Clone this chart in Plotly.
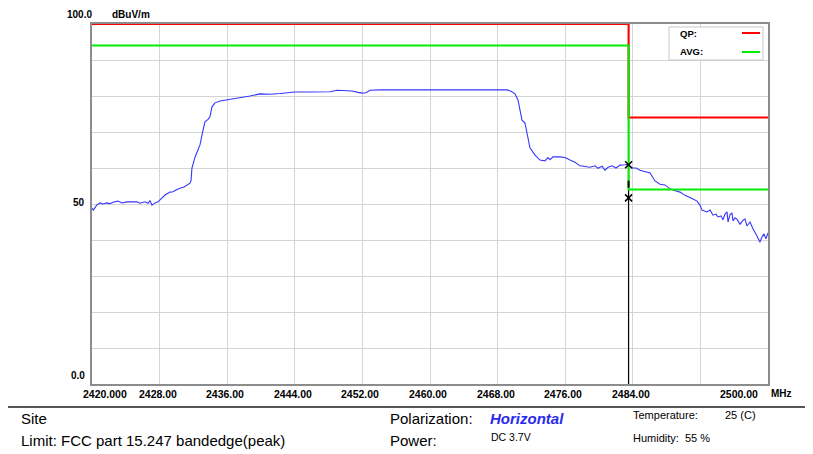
import plotly.graph_objects as go

# ---------------- data ----------------
freq_mhz = [2420.00, 2420.15, 2420.56, 2420.95, 2421.30, 2421.74, 2422.13, 2422.49, 2423.08, 2423.55,
            2424.14, 2424.73, 2425.33, 2425.68, 2426.27, 2426.63, 2426.86, 2427.10, 2427.46, 2427.81,
            2428.05, 2428.64, 2429.23, 2429.59, 2430.06, 2430.41, 2430.89, 2431.24, 2431.60, 2431.72,
            2431.83, 2432.19, 2432.78, 2433.14, 2433.37, 2433.73, 2433.96, 2434.20, 2434.56, 2435.15,
            2435.74, 2436.33, 2436.92, 2437.51, 2438.70, 2439.88, 2441.07, 2442.25, 2443.43, 2444.02,
            2445.80, 2448.17, 2449.00, 2449.94, 2450.77, 2451.48, 2451.95, 2452.43, 2452.90, 2454.08,
            2458.82, 2463.55, 2468.28, 2469.11, 2469.59, 2470.06, 2470.41, 2470.65, 2470.89, 2471.24,
            2471.48, 2471.83, 2472.43, 2473.02, 2473.61, 2473.96, 2474.20, 2474.56, 2475.38, 2475.98,
            2476.57, 2477.16, 2477.75, 2478.34, 2478.93, 2479.53, 2479.88, 2480.36, 2480.71, 2481.07,
            2481.54, 2482.01, 2482.49, 2483.08, 2483.43, 2483.91, 2484.38, 2484.85, 2485.44, 2486.04,
            2486.63, 2487.22, 2487.81, 2488.40, 2488.76, 2489.23, 2489.59, 2490.18, 2490.77, 2491.12,
            2491.60, 2491.95, 2492.19, 2492.54, 2492.78, 2493.14, 2493.49, 2493.85, 2494.08, 2494.44,
            2494.67, 2494.91, 2495.15, 2495.27, 2495.50, 2495.74, 2495.86, 2496.09, 2496.33, 2496.69,
            2497.04, 2497.28, 2497.51, 2497.87, 2498.22, 2498.70, 2499.05, 2499.29, 2499.53, 2499.76,
            2500.00]
level_dbuv = [48.9, 48.3, 49.7, 50.3, 50.0, 50.3, 50.1, 50.5, 50.8, 50.3,
              50.6, 50.5, 50.6, 50.2, 50.6, 50.2, 50.9, 49.7, 50.3, 50.6,
              51.1, 52.5, 53.3, 53.4, 54.0, 54.4, 54.7, 55.3, 55.8, 56.5,
              60.0, 63.0, 66.4, 70.5, 72.8, 73.5, 74.2, 77.0, 78.1, 78.6,
              78.8, 79.2, 79.2, 79.5, 80.0, 80.6, 80.5, 80.7, 80.9, 81.1,
              81.1, 81.2, 81.6, 81.5, 81.4, 81.0, 80.8, 80.9, 81.6, 81.7,
              81.7, 81.7, 81.7, 81.7, 81.3, 80.6, 78.9, 76.0, 73.3, 72.5,
              70.0, 65.6, 63.6, 62.2, 62.0, 62.9, 62.3, 63.1, 63.1, 62.9,
              62.2, 61.6, 60.6, 60.3, 60.2, 60.6, 59.9, 60.5, 59.4, 60.2,
              60.6, 60.0, 60.8, 60.9, 61.0, 60.0, 60.0, 59.4, 59.0, 58.6,
              56.4, 55.5, 55.3, 54.2, 53.9, 53.6, 53.3, 52.4, 51.9, 51.4,
              50.8, 49.7, 48.3, 48.0, 47.8, 48.3, 46.9, 47.2, 46.4, 46.7,
              45.6, 47.2, 47.8, 45.0, 47.0, 47.5, 45.3, 46.2, 45.8, 44.4,
              45.5, 45.8, 43.9, 45.0, 43.1, 41.1, 39.4, 40.8, 41.7, 40.3,
              42.0]

qp_freq = [2420.0, 2483.5, 2483.5, 2500.0]
qp_level = [100.0, 100.0, 74.0, 74.0]
avg_freq = [2420.0, 2483.5, 2483.5, 2500.0]
avg_level = [94.0, 94.0, 54.0, 54.0]

edge_freq = 2483.5
marker_levels = [60.9, 51.7]

x_tick_vals = [2420, 2428, 2436, 2444, 2452, 2460, 2468, 2476, 2484, 2500]
x_tick_text = ["2420.000", "2428.00", "2436.00", "2444.00", "2452.00", "2460.00",
               "2468.00", "2476.00", "2484.00", "2500.00"]
y_tick_vals = [100, 50, 0]
y_tick_text = ["100.0", "50", "0.0"]

# ---------------- layout helpers ----------------
OFF = 8  # page body margin of the viewer
W, H = 813 - OFF, 454 - OFF
# plot area in reference (page) pixels
RL, RR, RT, RB = 92, 768, 24, 384
L, R, T, B = RL - OFF, RR - OFF, RT - OFF, RB - OFF


def px(x):
    """reference page x pixel -> paper coord"""
    return (x - RL) / (RR - RL)


def py(y):
    """reference page y pixel -> paper coord"""
    return (RB - y) / (RB - RT)


FONT = "Arial, Liberation Sans, sans-serif"

fig = go.Figure()

# black marker line
fig.add_trace(go.Scatter(x=[edge_freq, edge_freq], y=[0, 100], mode="lines",
                         line=dict(color="black", width=1.2), hoverinfo="skip", showlegend=False))
# measured trace
fig.add_trace(go.Scatter(x=freq_mhz, y=level_dbuv, mode="lines",
                         line=dict(color="#3636ff", width=1.1), showlegend=False))
# limits
fig.add_trace(go.Scatter(x=qp_freq, y=qp_level, mode="lines",
                         line=dict(color="#ff0000", width=2), showlegend=False, name="QP"))
fig.add_trace(go.Scatter(x=avg_freq, y=avg_level, mode="lines",
                         line=dict(color="#00ee00", width=2), showlegend=False, name="AVG"))
# markers
fig.add_trace(go.Scatter(x=[edge_freq] * len(marker_levels), y=marker_levels, mode="markers",
                         marker=dict(symbol="x-thin", size=7, line=dict(color="black", width=1.5)),
                         showlegend=False, cliponaxis=False))
fig.add_trace(go.Scatter(x=[edge_freq], y=[55.5], mode="markers",
                         marker=dict(symbol="line-ns", size=5, line=dict(color="black", width=2)),
                         showlegend=False))

annotations = []
shapes = []

# y tick labels (as in the reference, drawn just above grid levels)
y_label_pos = {100: (94, 14), 50: (87, 202), 0: (87, 375)}
for v, t in zip(y_tick_vals, y_tick_text):
    xx, yy = y_label_pos[v]
    annotations.append(dict(x=px(xx), y=py(yy), xref="paper", yref="paper", text="<b>%s</b>" % t,
                            showarrow=False, xanchor="right", yanchor="middle",
                            font=dict(family=FONT, size=10, color="black")))
annotations.append(dict(x=px(110), y=py(14), xref="paper", yref="paper", text="<b>dBuV/m</b>",
                        showarrow=False, xanchor="left", yanchor="middle",
                        font=dict(family=FONT, size=10, color="black")))

# x tick labels
for v, t in zip(x_tick_vals, x_tick_text):
    if v == 2420:
        annotations.append(dict(x=px(81), y=py(394), xref="paper", yref="paper", text="<b>%s</b>" % t,
                                showarrow=False, xanchor="left", yanchor="middle",
                                font=dict(family=FONT, size=10.5, color="black")))
    elif v == 2500:
        annotations.append(dict(x=px(760), y=py(394), xref="paper", yref="paper", text="<b>%s</b>" % t,
                                showarrow=False, xanchor="right", yanchor="middle",
                                font=dict(family=FONT, size=10.5, color="black")))
    else:
        annotations.append(dict(x=v, y=py(394), xref="x", yref="paper", text="<b>%s</b>" % t,
                                showarrow=False, xanchor="center", yanchor="middle", xshift=-2,
                                font=dict(family=FONT, size=10.5, color="black")))
annotations.append(dict(x=px(769), y=py(394), xref="paper", yref="paper", text="<b>MHz</b>",
                        showarrow=False, xanchor="left", yanchor="middle",
                        font=dict(family=FONT, size=10, color="black")))

# legend box
shapes.append(dict(type="rect", xref="paper", yref="paper", x0=px(669), x1=px(763), y0=py(60), y1=py(27),
                   line=dict(color="#c8c8c8", width=1), fillcolor="white", layer="above"))
for label, color, yy in [("QP:", "#ff0000", 33), ("AVG:", "#00ee00", 52)]:
    annotations.append(dict(x=px(678), y=py(yy), xref="paper", yref="paper", text="<b>%s</b>" % label,
                            showarrow=False, xanchor="left", yanchor="middle",
                            font=dict(family=FONT, size=9.5, color="black")))
    shapes.append(dict(type="line", xref="paper", yref="paper", x0=px(742), x1=px(760), y0=py(yy), y1=py(yy),
                       line=dict(color=color, width=2), layer="above"))

# bottom info block
shapes.append(dict(type="line", xref="paper", yref="paper", x0=px(OFF), x1=px(813), y0=py(407), y1=py(407),
                   line=dict(color="#555555", width=2)))
info = [
    ("Site", 19, 418, 15, "black"),
    ("Limit: FCC part 15.247 bandedge(peak)", 19, 441, 15, "black"),
    ("Polarization:", 388, 418, 15, "black"),
    ("<b><i>Horizontal</i></b>", 488, 418, 15, "#2a2aee"),
    ("Power:", 388, 441, 15, "black"),
    ("DC 3.7V", 489, 437, 10.5, "black"),
    ("Temperature:", 631, 415, 11, "black"),
    ("25 (C)", 723, 415, 11, "black"),
    ("Humidity:", 631, 438, 11, "black"),
    ("55 %", 683, 438, 11, "black"),
]
for text, xx, yy, size, color in info:
    annotations.append(dict(x=px(xx), y=py(yy), xref="paper", yref="paper", text=text,
                            showarrow=False, xanchor="left", yanchor="middle",
                            font=dict(family=FONT, size=size, color=color)))

fig.update_layout(
    width=W, height=H,
    margin=dict(l=L, r=W - R, t=T, b=H - B, pad=0),
    paper_bgcolor="white", plot_bgcolor="white",
    showlegend=False,
    annotations=annotations, shapes=shapes,
    xaxis=dict(range=[2420, 2500], tickvals=[2420 + 8 * i for i in range(11)], showticklabels=False,
               ticks="", showgrid=True, gridcolor="#d4d4d4", gridwidth=1, zeroline=False,
               showline=True, linecolor="#8c8c8c", linewidth=2, mirror=True, layer="below traces",
               fixedrange=True),
    yaxis=dict(range=[0, 100], tickvals=[10 * i for i in range(11)], showticklabels=False,
               ticks="", showgrid=True, gridcolor="#d4d4d4", gridwidth=1, zeroline=False,
               showline=True, linecolor="#8c8c8c", linewidth=2, mirror=True, layer="below traces",
               fixedrange=True),
)

fig.write_html("out.html")
